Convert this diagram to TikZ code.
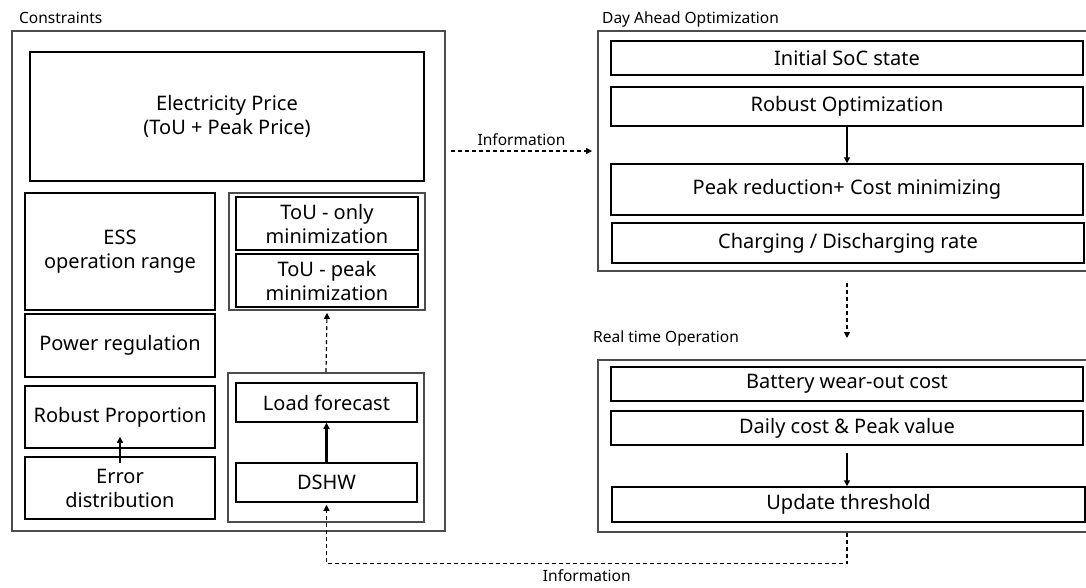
\documentclass[tikz,border=0pt]{standalone}
\usepackage{fontspec}
\setmainfont{Noto Sans}
\usetikzlibrary{arrows.meta,positioning,calc}
\tikzset{
  blk/.style={draw,rectangle,line width=1.5pt,align=center,inner sep=0pt,font=\fontsize{20}{24}\selectfont},
  grpblk/.style={draw=black!70,rectangle,line width=1.7pt,inner sep=0pt},
  ttl/.style={anchor=west,inner sep=0pt,font=\fontsize{15.5}{18}\selectfont},
  arr/.style={-{Triangle[length=6pt,width=6pt]},line width=1.2pt},
  tharr/.style={-{Triangle[length=6pt,width=6pt]},line width=2.4pt},
  darr/.style={-{Triangle[length=6pt,width=6pt]},line width=1.2pt,dash pattern=on 4pt off 3pt}
}

\begin{document}
\begin{tikzpicture}[x=1pt,y=-1pt]
  \useasboundingbox (0,0) rectangle (1086,587);

  % constraints side
  \node[ttl] (constl) at (19,18) {Constraints};
  \node[grpblk,minimum width=433,minimum height=500] (cons) at (228.5,281) {};
  \node[blk,minimum width=394,minimum height=129] (price) at (227,116.5) {Electricity Price\\(ToU + Peak Price)};
  \node[blk,minimum width=190,minimum height=117] (ess) at (120,251.5) {ESS\\operation range};
  \node[blk,minimum width=190,minimum height=63] (preg) at (120,345.5) {Power regulation};
  \node[blk,minimum width=190,minimum height=62] (rprop) at (120,417) {Robust Proportion};
  \node[blk,minimum width=190,minimum height=62] (errd) at (120,488) {Error\\distribution};

  \node[grpblk,minimum width=196,minimum height=117] (tougrp) at (327,251.5) {};
  \node[blk,minimum width=182,minimum height=53] (touonly) at (327,223.5) {ToU - only\\minimization};
  \node[blk,minimum width=182,minimum height=53] (toupeak) at (327,280.5) {ToU - peak\\minimization};

  \node[grpblk,minimum width=196,minimum height=149] (loadgrp) at (326,447.5) {};
  \node[blk,minimum width=181,minimum height=39] (lfc) at (326.5,402.5) {Load forecast};
  \node[blk,minimum width=181,minimum height=39] (dshw) at (326.5,482.5) {DSHW};

  % day ahead side
  \node[ttl] (daol) at (602,19) {Day Ahead Optimization};
  \node[grpblk,minimum width=490,minimum height=240] (dao) at (843,151) {};
  \node[blk,minimum width=472,minimum height=34] (soc) at (847,58) {Initial SoC state};
  \node[blk,minimum width=472,minimum height=39] (ropt) at (847,106.5) {Robust Optimization};
  \node[blk,minimum width=472,minimum height=51] (peak) at (847,189.5) {Peak reduction+ Cost minimizing};
  \node[blk,minimum width=472,minimum height=40] (chg) at (848,243) {Charging / Discharging rate};

  % real time side
  \node[ttl] (rtol) at (593,338) {Real time Operation};
  \node[grpblk,minimum width=490,minimum height=172] (rto) at (843,446) {};
  \node[blk,minimum width=472,minimum height=34] (wear) at (847,384) {Battery wear-out cost};
  \node[blk,minimum width=472,minimum height=34] (daily) at (847,428) {Daily cost \& Peak value};
  \node[blk,minimum width=473,minimum height=35] (upd) at (848.5,504.5) {Update threshold};

  \draw[tharr] ([yshift=-7]errd.north) -- ([yshift=12]rprop.south);
  \draw[tharr] (dshw.north) -- (lfc.south);
  \draw[darr] (loadgrp.north) -- ([yshift=-2]tougrp.south);
  \draw[darr] ([xshift=5]cons.east |- dao.west) -- node[above=1pt,font=\fontsize{15.5}{18}\selectfont]{Information} ([xshift=-5]dao.west);
  \draw[arr] (ropt.south) -- (peak.north);
  \draw[darr] ([yshift=-11]dao.south -| ropt.south) -- (rtol.east -| ropt.south);
  \draw[arr] ([yshift=-7]daily.south) -- (daily.south |- upd.north);
  \draw[darr] (rto.south -| daily.south) -- ++(0,31) -| node[pos=0.25,below=2pt,font=\fontsize{15.5}{18}\selectfont]{Information} ([yshift=-2]dshw.south);
\end{tikzpicture}
\end{document}
